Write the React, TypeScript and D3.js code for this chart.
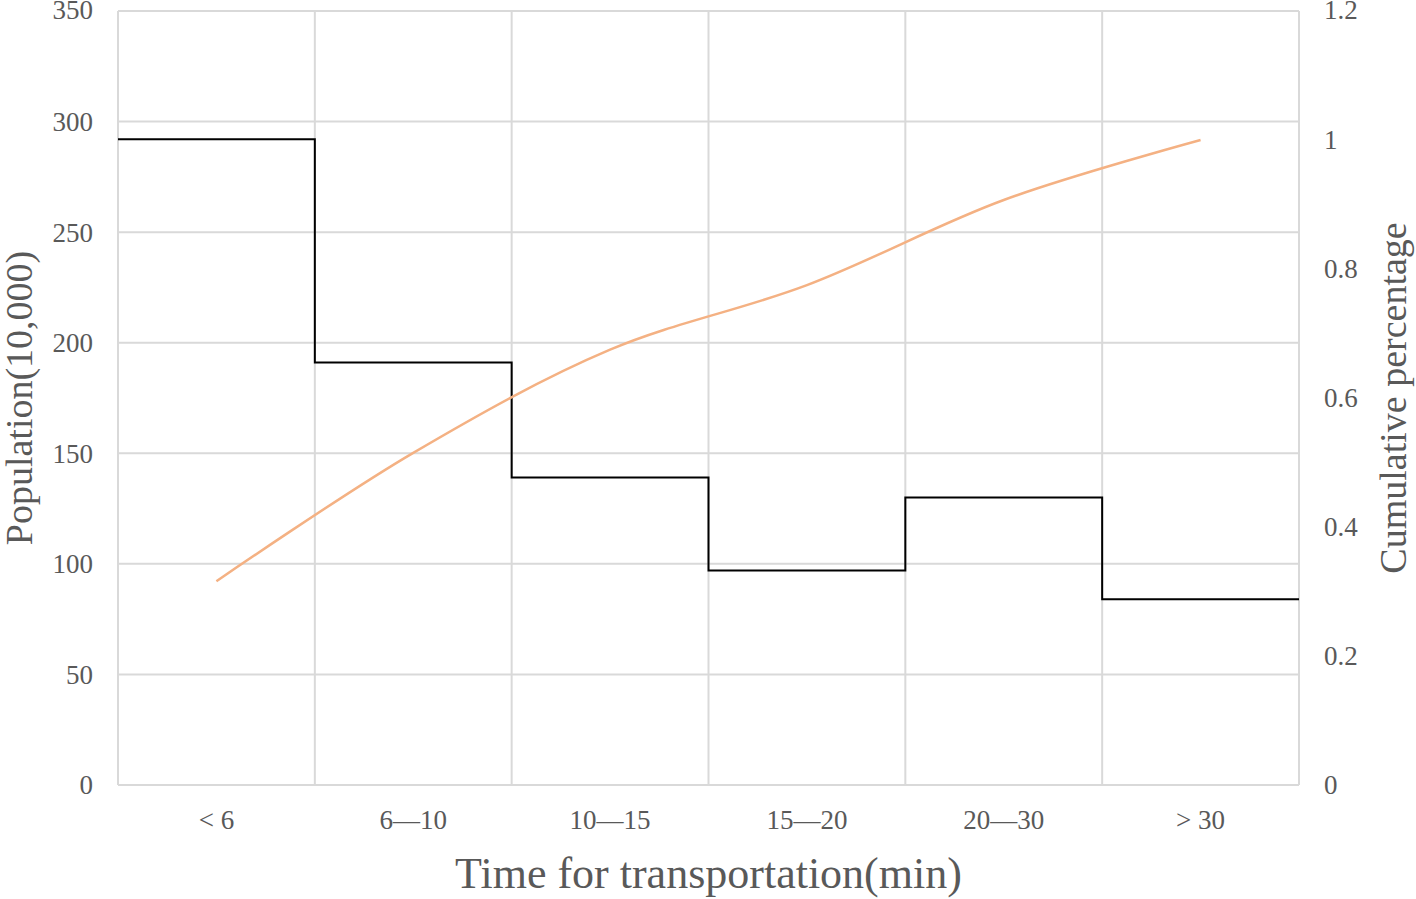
import React, { useEffect, useRef } from 'react';
import * as d3 from 'd3';

const categories = ['< 6', '6—10', '10—15', '15—20', '20—30', '> 30'];
const population = [292, 191, 139, 97, 130, 84];
const cumulative = [0.316, 0.515, 0.675, 0.775, 0.907, 1.0];
const leftTicks = [0, 50, 100, 150, 200, 250, 300, 350];
const rightTicks = [0, 0.2, 0.4, 0.6, 0.8, 1, 1.2];

const App = () => {
  const ref = useRef<SVGSVGElement>(null);

  useEffect(() => {
    const svgWidth = 1416;
    const svgHeight = 899;
    const margin = { top: 11, right: 117, bottom: 114, left: 118 };
    const width = svgWidth - margin.left - margin.right;
    const height = svgHeight - margin.top - margin.bottom;
    const font = '"Liberation Serif", "Times New Roman", serif';
    const textColor = '#595959';
    const gridColor = '#d9d9d9';

    const svg = d3.select(ref.current);
    svg.selectAll('*').remove();

    const g = svg.append('g').attr('transform', `translate(${margin.left}, ${margin.top})`);

    const x = d3.scaleBand().domain(categories).range([0, width]).padding(0);
    const y = d3.scaleLinear().domain([0, 350]).range([height, 0]);
    const y2 = d3.scaleLinear().domain([0, 1.2]).range([height, 0]);

    // horizontal grid
    g.append('g')
      .selectAll('line')
      .data(leftTicks)
      .enter()
      .append('line')
      .attr('x1', 0)
      .attr('x2', width)
      .attr('y1', d => y(d))
      .attr('y2', d => y(d))
      .attr('stroke', gridColor)
      .attr('stroke-width', 2);

    // vertical grid at category boundaries
    const bounds = categories.map(c => x(c) as number).concat([width]);
    g.append('g')
      .selectAll('line')
      .data(bounds)
      .enter()
      .append('line')
      .attr('x1', d => d)
      .attr('x2', d => d)
      .attr('y1', 0)
      .attr('y2', height)
      .attr('stroke', gridColor)
      .attr('stroke-width', 2);

    // left tick labels
    g.append('g')
      .selectAll('text')
      .data(leftTicks)
      .enter()
      .append('text')
      .attr('x', -25)
      .attr('y', d => y(d))
      .attr('dy', d => (d === 350 ? '0.3em' : '0.35em'))
      .attr('text-anchor', 'end')
      .style('font-family', font)
      .style('font-size', '27px')
      .attr('fill', textColor)
      .text(d => d);

    // right tick labels
    g.append('g')
      .selectAll('text')
      .data(rightTicks)
      .enter()
      .append('text')
      .attr('x', width + 25)
      .attr('y', d => y2(d))
      .attr('dy', d => (d === 1.2 ? '0.3em' : '0.35em'))
      .attr('text-anchor', 'start')
      .style('font-family', font)
      .style('font-size', '27px')
      .attr('fill', textColor)
      .text(d => String(d));

    // category labels
    g.append('g')
      .selectAll('text')
      .data(categories)
      .enter()
      .append('text')
      .attr('x', d => (x(d) as number) + x.bandwidth() / 2)
      .attr('y', height + 44)
      .attr('text-anchor', 'middle')
      .style('font-family', font)
      .style('font-size', '27px')
      .attr('fill', textColor)
      .text(d => d);

    // step line for population
    const stepData: [number, number][] = categories.map((c, i) => [x(c) as number, population[i]]);
    stepData.push([width, population[population.length - 1]]);
    const stepLine = d3.line<[number, number]>()
      .x(d => d[0])
      .y(d => y(d[1]))
      .curve(d3.curveStepAfter);
    g.append('path')
      .datum(stepData)
      .attr('d', stepLine)
      .attr('fill', 'none')
      .attr('stroke', '#000')
      .attr('stroke-width', 2);

    // cumulative curve
    const cumLine = d3.line<number>()
      .x((d, i) => (x(categories[i]) as number) + x.bandwidth() / 2)
      .y(d => y2(d))
      .curve(d3.curveCatmullRom.alpha(0.5));
    g.append('path')
      .datum(cumulative)
      .attr('d', cumLine)
      .attr('fill', 'none')
      .attr('stroke', '#f4b183')
      .attr('stroke-width', 2.5);

    // axis titles
    svg.append('text')
      .attr('x', margin.left + width / 2)
      .attr('y', 888)
      .attr('text-anchor', 'middle')
      .style('font-family', font)
      .style('font-size', '44px')
      .attr('fill', textColor)
      .text('Time for transportation(min)');

    svg.append('text')
      .attr('transform', `translate(32, ${margin.top + height / 2}) rotate(-90)`)
      .attr('text-anchor', 'middle')
      .style('font-family', font)
      .style('font-size', '38px')
      .attr('fill', textColor)
      .text('Population(10,000)');

    svg.append('text')
      .attr('transform', `translate(1406, ${margin.top + height / 2}) rotate(-90)`)
      .attr('text-anchor', 'middle')
      .style('font-family', font)
      .style('font-size', '38px')
      .attr('fill', textColor)
      .text('Cumulative percentage');
  }, []);

  return (
    <svg
      ref={ref}
      width={1416}
      height={899}
      style={{ position: 'absolute', left: 0, top: 0, background: '#fff' }}
    />
  );
};

export default App;
